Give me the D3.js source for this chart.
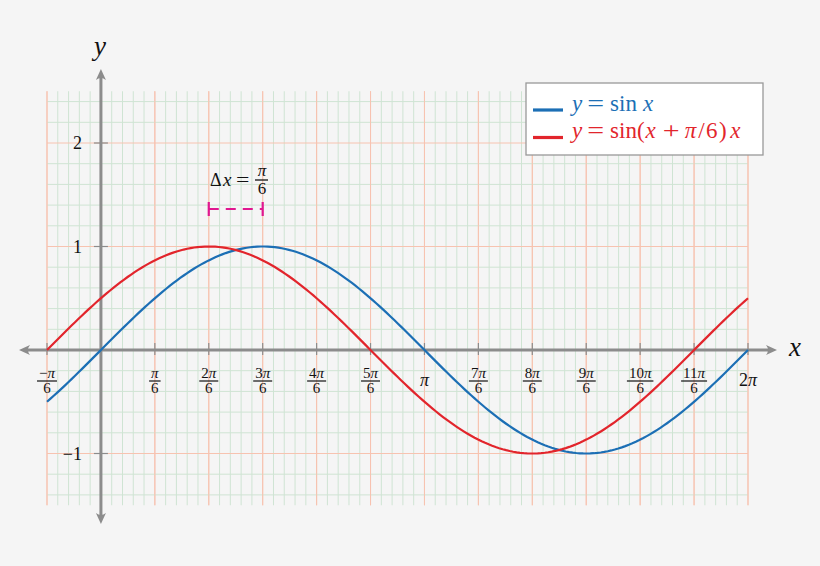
<!DOCTYPE html>
<html><head><meta charset="utf-8">
<script src="https://cdn.jsdelivr.net/npm/d3@7"></script>
<style>
html,body{margin:0;padding:0;background:#f5f5f5;}
svg{display:block;}
text{font-family:"Liberation Serif","DejaVu Serif",serif;fill:#111;}
</style></head>
<body>
<svg id="c" width="820" height="566"></svg>
<script>
// ---- data ----
const xDomain = [-Math.PI/6, 2*Math.PI];
const yDomain = [-1.5, 2.5];
const tickSteps = [-1,1,2,3,4,5,6,7,8,9,10,11,12];      // multiples of π/6
const tickNumerators = ["−π","π","2π","3π","4π","5π","π","7π","8π","9π","10π","11π","2π"];
const tickDenominators = ["6","6","6","6","6","6","","6","6","6","6","6",""];
const yTicks = [-1, 1, 2];
const yTickLabels = ["−1","1","2"];
const shift = Math.PI/6;
const seriesColors = ["#1c6fb5", "#e2252c"];
// legend pieces: [text, italic]
const legend1 = [["y",1],["=",0],["sin",0],["x",1]];
const legend2 = [["y",1],["=",0],["sin(",0],["x",1],["+",0],["π",1],["/6)",0],["x",1]];
const sampleCount = 200;

const svg = d3.select("#c");
const x = d3.scaleLinear().domain(xDomain).range([47, 748]);
const y = d3.scaleLinear().domain(yDomain).range([505.25, 91.25]);

// ---- grid ----
const g = svg.append("g");
const minorX = d3.range(0, 66).map(i => xDomain[0] + i*Math.PI/30);
const minorY = d3.range(-7, 13).map(i => i*0.2);
const major = "#f7c3b0", minor = "#cfe4d3";
g.selectAll(".vx").data(minorX).join("line")
  .attr("x1", d => x(d)).attr("x2", d => x(d))
  .attr("y1", y(yDomain[0])).attr("y2", y(yDomain[1]))
  .attr("stroke", (d,i) => i%5===0 ? major : minor).attr("stroke-width", 1);
g.selectAll(".hy").data(minorY).join("line")
  .attr("y1", d => y(d)).attr("y2", d => y(d))
  .attr("x1", x(xDomain[0])).attr("x2", x(xDomain[1]))
  .attr("stroke", d => Math.abs(d - Math.round(d))<1e-9 ? major : minor).attr("stroke-width", 1);
g.selectAll(".mx").data(minorX.filter((d,i)=>i%5===0)).join("line")
  .attr("x1", d => x(d)).attr("x2", d => x(d))
  .attr("y1", y(yDomain[0])).attr("y2", y(yDomain[1]))
  .attr("stroke", major).attr("stroke-width", 1);

// ---- axes ----
const axisColor = "#8c8c8c";
const ax = svg.append("g");
ax.append("line").attr("x1", 24).attr("x2", 772).attr("y1", y(0)).attr("y2", y(0))
  .attr("stroke", axisColor).attr("stroke-width", 3);
ax.append("line").attr("x1", x(0)).attr("x2", x(0)).attr("y1", 74).attr("y2", 519)
  .attr("stroke", axisColor).attr("stroke-width", 3);
function arrow(tx, ty, ang) {
  const p = d3.path();
  p.moveTo(0,0); p.lineTo(-11,-5); p.quadraticCurveTo(-7,0,-11,5); p.closePath();
  ax.append("path").attr("d", p.toString())
    .attr("transform", `translate(${tx},${ty}) rotate(${ang})`).attr("fill", axisColor);
}
arrow(777, y(0), 0); arrow(19, y(0), 180);
arrow(x(0), 69, -90); arrow(x(0), 524, 90);

ax.selectAll(".xt").data(tickSteps).join("line")
  .attr("x1", d => x(d*Math.PI/6)).attr("x2", d => x(d*Math.PI/6))
  .attr("y1", y(0)-7).attr("y2", y(0)+5).attr("stroke", axisColor).attr("stroke-width", 1.2);
ax.selectAll(".yt").data(yTicks).join("line")
  .attr("y1", d => y(d)).attr("y2", d => y(d))
  .attr("x1", x(0)-7).attr("x2", x(0)+7).attr("stroke", axisColor).attr("stroke-width", 1.2);

// text with a slanted π
function addMath(sel, str) {
  const parts = str.split(/(π)/).filter(s => s.length);
  parts.forEach(p => {
    const ts = sel.append("tspan").text(p);
    if (p === "π") ts.attr("font-style", "italic");
  });
  return sel;
}

// x tick labels
const lab = svg.append("g");
tickSteps.forEach((k, i) => {
  const cx = x(k*Math.PI/6);
  if (tickDenominators[i] === "") {
    addMath(lab.append("text").attr("x", cx).attr("y", 386).attr("text-anchor", "middle")
      .attr("font-size", 18), tickNumerators[i]);
  } else {
    const t = addMath(lab.append("text").attr("x", cx).attr("y", 378).attr("text-anchor", "middle")
      .attr("font-size", 15), tickNumerators[i]);
    const w = t.node().getComputedTextLength() + 4;
    lab.append("line").attr("x1", cx - w/2).attr("x2", cx + w/2).attr("y1", 381).attr("y2", 381)
      .attr("stroke", "#111").attr("stroke-width", 1.2);
    lab.append("text").attr("x", cx).attr("y", 393).attr("text-anchor", "middle")
      .attr("font-size", 15).text(tickDenominators[i]);
  }
});
lab.selectAll(".yl").data(yTicks).join("text")
  .attr("x", 82).attr("y", d => y(d) + 6).attr("text-anchor", "end")
  .attr("font-size", 18).text((d,i) => yTickLabels[i]);

lab.append("text").attr("x", 100).attr("y", 55).attr("text-anchor", "middle")
  .attr("font-size", 27).attr("font-style", "italic").text("y");
lab.append("text").attr("x", 795).attr("y", 356).attr("text-anchor", "middle")
  .attr("font-size", 27).attr("font-style", "italic").text("x");

// ---- curves ----
const samples = d3.range(sampleCount + 1).map(i => xDomain[0] + i*(xDomain[1]-xDomain[0])/sampleCount);
const fns = [t => Math.sin(t), t => Math.sin(t + shift)];
const line = d3.line().x(d => x(d[0])).y(d => y(d[1]));
fns.forEach((f, i) => {
  svg.append("path").datum(samples.map(t => [t, f(t)]))
    .attr("d", line).attr("fill", "none")
    .attr("stroke", seriesColors[i]).attr("stroke-width", 2.2);
});

// ---- Δx annotation ----
const mag = "#e0178f";
const a0 = x(2*Math.PI/6), a1 = x(3*Math.PI/6), ay = 209;
svg.append("line").attr("x1", a0).attr("x2", a1).attr("y1", ay).attr("y2", ay)
  .attr("stroke", mag).attr("stroke-width", 2.2).attr("stroke-dasharray", "10,7");
[a0, a1].forEach(px => svg.append("line").attr("x1", px).attr("x2", px)
  .attr("y1", ay-7).attr("y2", ay+7).attr("stroke", mag).attr("stroke-width", 2.2));
svg.append("text").attr("x", 210).attr("y", 186).attr("font-size", 18).text("Δ");
svg.append("text").attr("x", 223).attr("y", 186).attr("font-size", 19).attr("font-style", "italic").text("x");
svg.append("text").attr("transform", "translate(236,186) scale(1.25,1)").attr("font-size", 19).text("=");
svg.append("text").attr("x", 262).attr("y", 176).attr("text-anchor", "middle").attr("font-size", 17).attr("font-style", "italic").text("π");
svg.append("line").attr("x1", 255).attr("x2", 268).attr("y1", 180).attr("y2", 180).attr("stroke", "#111").attr("stroke-width", 1.3);
svg.append("text").attr("x", 262).attr("y", 194).attr("text-anchor", "middle").attr("font-size", 17).text("6");

// ---- legend ----
const lg = svg.append("g");
lg.append("rect").attr("x", 526).attr("y", 83).attr("width", 237).attr("height", 72)
  .attr("fill", "#fff").attr("stroke", "#999").attr("stroke-width", 1.3);
const rows = [110, 137.5];
rows.forEach((ry, i) => {
  lg.append("line").attr("x1", 533).attr("x2", 563).attr("y1", ry).attr("y2", ry)
    .attr("stroke", seriesColors[i]).attr("stroke-width", 3.2);
});
const gapAfter = {"y": 5, "=": 6, "sin": 6, "sin(": 1, "x": 7, "+": 5, "π": 2, "/6)": 2};
function legendRow(pieces, by, color) {
  let cx = 572;
  pieces.forEach(p => {
    const op = (p[0] === "=" || p[0] === "+");
    const sx = op ? 1.3 : 1;
    const t = lg.append("text").attr("transform", `translate(${cx},${by}) scale(${sx},1)`)
      .attr("font-size", 23).attr("font-style", p[1] ? "italic" : "normal")
      .style("fill", color).text(p[0]);
    if (p[0] === "/6)") t.attr("letter-spacing", 1.5);
    cx += t.node().getComputedTextLength() * sx + gapAfter[p[0]];
  });
}
legendRow(legend1, 111, seriesColors[0]);
legendRow(legend2, 137.5, seriesColors[1]);
</script>
</body></html>
